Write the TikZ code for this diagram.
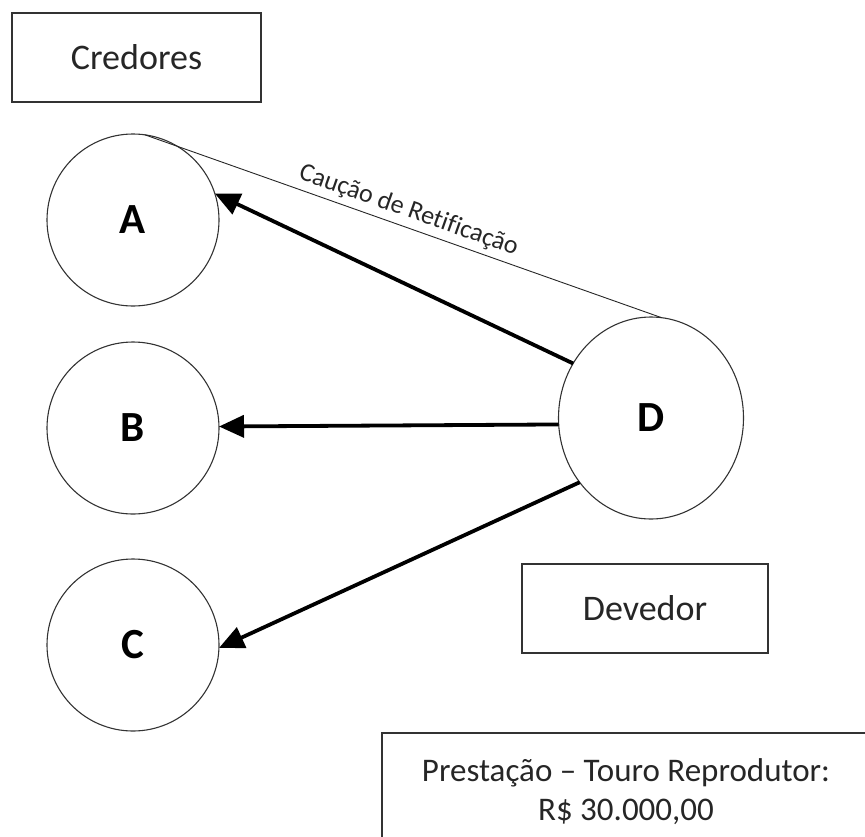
\documentclass[tikz,border=0pt]{standalone}
\usepackage{fontspec}
\setmainfont{Carlito}[Ligatures=NoCommon]
\usetikzlibrary{shapes.geometric,arrows.meta}
\begin{document}
\begin{tikzpicture}[x=1pt,y=-1pt,
  labelbox/.style={draw=black!80, line width=1.3pt, inner sep=0pt, outer sep=0pt,
    font=\fontsize{36}{43}\selectfont, text=black!85},
  party/.style={circle, draw=black!80, line width=1.1pt, minimum size=172pt,
    inner sep=0pt, outer sep=0pt, font=\fontsize{43}{50}\selectfont\bfseries},
  debtor/.style={ellipse, draw=black!80, line width=1.1pt, minimum width=185pt,
    minimum height=202pt, inner sep=0pt, outer sep=0pt,
    font=\fontsize{43}{50}\selectfont\bfseries},
  duty/.style={line width=3.8pt, -{Triangle[length=25pt,width=22pt]}},
  pledge/.style={draw=black!85, line width=0.9pt},
]
\useasboundingbox (0,0) rectangle (865,836);
\clip (0,0) rectangle (865,836);

% title boxes
\node[labelbox, minimum width=249pt, minimum height=89pt] (cred) at (136.5,57.5) {Credores};
\node[labelbox, minimum width=246pt, minimum height=89pt] (dev) at (645,608.5) {Devedor};
\node[labelbox, minimum width=488pt, minimum height=118pt, align=center,
  font=\fontsize{33}{39}\selectfont] (prest) at (626,792)
  {Prestação – Touro Reprodutor:\\R\$ 30.000,00};

% creditors and debtor
\node[party] (A) at (133,220) {A};
\node[party] (B) at (133,428) {B};
\node[party] (C) at (133,645) {C};
\node[debtor] (D) at (651,418) {D};

% pledge line
\draw[pledge] (A.82) -- node[midway, sloped, above=5pt, inner sep=0pt,
  font=\fontsize{26}{31}\selectfont, text=black!85] (caucao) {Caução de Retificação} (D.84);

% obligations
\draw[duty] (D.145) -- (A.18);
\draw[duty] (D.184) -- (B.1);
\draw[duty] (D.222) -- (C.358);
\end{tikzpicture}
\end{document}
